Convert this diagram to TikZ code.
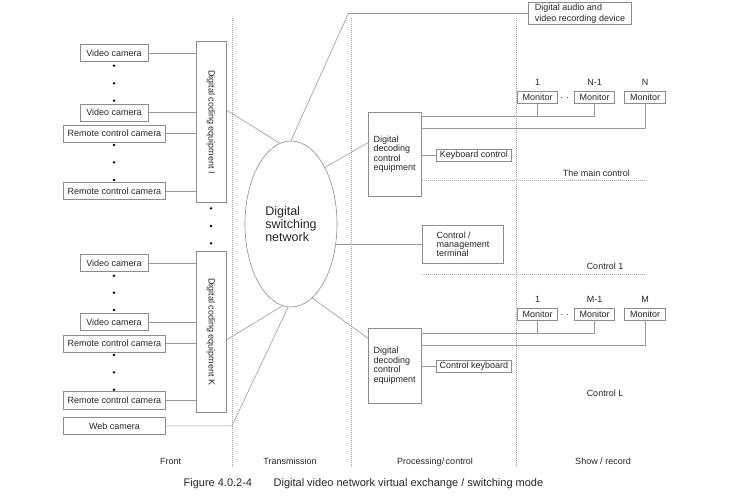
\documentclass[tikz,border=0pt]{standalone}
\usepackage{fontspec}
\setmainfont{Liberation Sans}
\usetikzlibrary{shapes.geometric}

\begin{document}
\begin{tikzpicture}[x=1pt, y=-1pt, line width=0.6pt,
	every node/.style={font=\fontsize{9}{10}\selectfont, text=black!85},
	box/.style={draw=black!45, inner sep=0pt, minimum height=17.5pt},
	cam/.style={box, minimum width=68pt},
	rcam/.style={box, minimum width=102.4pt},
	codebox/.style={box, minimum width=30pt, minimum height=160.5pt},
	decbox/.style={box, minimum width=52.7pt, align=left, font=\fontsize{9}{9.5}\selectfont},
	smallbox/.style={box, minimum width=74.3pt, minimum height=12pt},
	mon/.style={box, minimum width=40.5pt, minimum height=12pt},
	lbl/.style={inner sep=0pt, yshift=5pt},
	link/.style={draw=black!40},
	sep/.style={draw=black!35, dash pattern=on 1pt off 1pt}]
	\useasboundingbox (0,0) rectangle (730,500);

	% front
	\node [cam] (vc1) at (114,53) {Video camera};
	\node [cam] (vc2) at (114,112.7) {Video camera};
	\node [rcam] (rc1) at (114.5,133.7) {Remote control camera};
	\node [rcam] (rc2) at (114.5,190.8) {Remote control camera};
	\node [cam] (vc3) at (114,262.8) {Video camera};
	\node [cam] (vc4) at (114,322) {Video camera};
	\node [rcam] (rc3) at (114.5,343.7) {Remote control camera};
	\node [rcam] (rc4) at (114.5,400.5) {Remote control camera};
	\node [rcam] (web) at (114.5,425.8) {Web camera};
	\node [codebox] (code1) at (211,122) {};
	\node [rotate=-90] (code1txt) at (code1) {Digital coding equipment I};
	\node [codebox] (code2) at (211,331.7) {};
	\node [rotate=-90] (code2txt) at (code2) {Digital coding equipment K};
	\foreach \c in {vc1, vc2, rc1, rc2} \draw [link] (\c.east) -- (\c.east -| code1.west);
	\foreach \c in {vc3, vc4, rc3, rc4} \draw [link] (\c.east) -- (\c.east -| code2.west);
	\foreach \y in {65.7, 83.3, 100.7, 145, 162.3, 180, 275.7, 292.7, 310, 355, 372.3, 389.7}
		\fill (114,\y) circle (1.3pt);
	\foreach \y in {208.3, 226, 243.3} \fill (211,\y) circle (1.3pt);

	% transmission
	\node [draw=black!45, ellipse, minimum width=92pt, minimum height=166pt, inner sep=0pt, align=left,
		font=\fontsize{12.5}{13}\selectfont] (net) at (291,224) {Digital\\switching\\network};
	\foreach \x in {232, 351, 516} \draw [sep] (\x,18) -- (\x,468);

	% processing / control
	\node [box, minimum width=103.4pt, minimum height=21.6pt, align=left, font=\fontsize{9}{10.5}\selectfont]
		(rec) at (580,13.5) {Digital audio and\\video recording device};
	\node [decbox, minimum height=83.7pt] (dec1) at (394.7,154.2) {Digital\\decoding\\control\\equipment};
	\node [decbox, minimum height=75pt] (dec2) at (394.7,365.8) {Digital\\decoding\\control\\equipment};
	\node [smallbox] (kbd) at (473.8,155) {Keyboard control};
	\node [smallbox] (ckbd) at (473.8,365.8) {Control keyboard};
	\node [box, minimum width=80.6pt, minimum height=38.3pt, align=left, font=\fontsize{9}{8.8}\selectfont]
		(term) at (463,244.2) {Control /\\management\\terminal};

	\coordinate (recbend) at (348.3,13.5);
	\coordinate (webbend) at (232,425.8);
	\draw [link] (code1.east |- 0,110) -- (net.98);
	\draw [link] (code2.east |- 0,340) -- (net.-96);
	\draw [link] (web.east) -- (webbend) -- (net.-92);
	\draw [link] (net.north) -- (recbend) -- (rec.west);
	\draw [link] (net.59) -- (dec1.west |- 0,142.7);
	\draw [link] (net.-24) -- (net.-24 -| term.west);
	\draw [link] (net.-74) -- (dec2.west |- 0,338.3);
	\draw [link] (dec1.east |- kbd.west) -- (kbd.west);
	\draw [link] (dec2.east |- ckbd.west) -- (ckbd.west);

	% show / record
	\node [mon, label={[lbl]above:1}] (mt1) at (537.5,97.5) {Monitor};
	\node [mon, label={[lbl]above:N-1}] (mt2) at (594.5,97.5) {Monitor};
	\node [mon, label={[lbl]above:N}] (mt3) at (645,97.5) {Monitor};
	\node [mon, label={[lbl]above:1}] (mb1) at (537.5,314) {Monitor};
	\node [mon, label={[lbl]above:M-1}] (mb2) at (594.5,314) {Monitor};
	\node [mon, label={[lbl]above:M}] (mb3) at (645,314) {Monitor};
	\draw [black!60, line width=1pt, dash pattern=on 0.8pt off 5.9pt, shorten <=2.5pt] (mt1.east) -- (mt2.west);
	\draw [black!60, line width=1pt, dash pattern=on 0.8pt off 5.9pt, shorten <=2.5pt] (mb1.east) -- (mb2.west);

	\draw [link] (dec1.east |- 0,116) -| (mt2.south);
	\draw [link] (mt1.south) -- (mt1.south |- 0,116);
	\draw [link] (dec1.east |- 0,128) -| (mt3.south);
	\draw [link] (dec2.east |- 0,333.3) -| (mb2.south);
	\draw [link] (mb1.south) -- (mb1.south |- 0,333.3);
	\draw [link] (dec2.east |- 0,345.7) -| (mb3.south);

	\draw [sep] (421.7,180) -- (645,180);
	\draw [sep] (421.7,274) -- (645,274);
	\node (mainctl) at (596.3,173.3) {The main control};
	\node (ctl1) at (605,266) {Control 1};
	\node (ctlL) at (605,393.3) {Control L};

	% columns and caption
	\node (front) at (170.7,461.7) {Front};
	\node (trans) at (290,461.7) {Transmission};
	\node (proc) at (435,461.7) {Processing/\,control};
	\node (show) at (603,461.7) {Show / record};
	\node [anchor=west, font=\fontsize{11}{13}\selectfont] (fignum) at (180,483.3) {Figure 4.0.2-4};
	\node [anchor=west, font=\fontsize{11}{13}\selectfont] (figtitle) at (270,483.3)
		{Digital video network virtual exchange / switching mode};
\end{tikzpicture}
\end{document}
